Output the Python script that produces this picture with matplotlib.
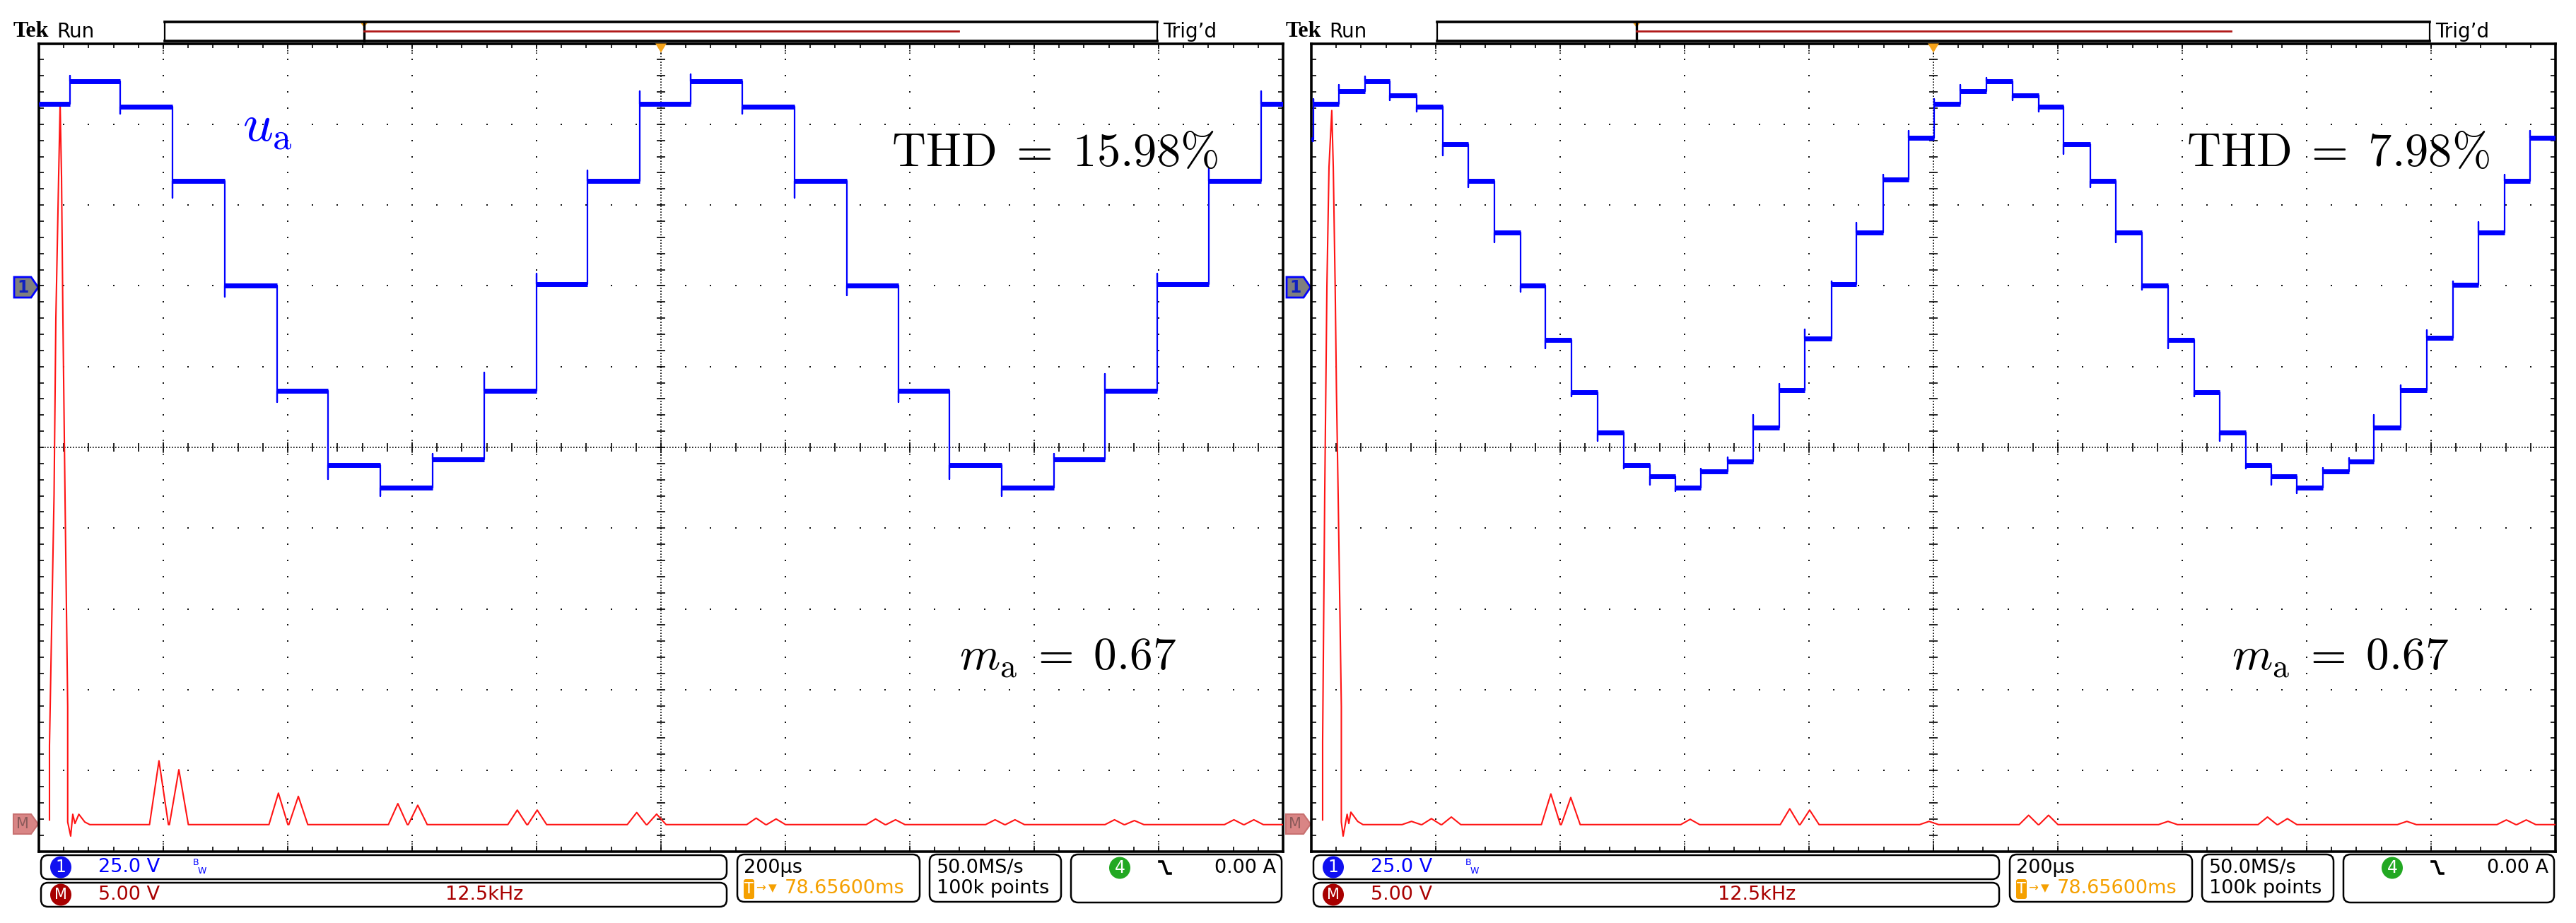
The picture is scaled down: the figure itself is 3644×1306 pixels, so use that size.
import numpy as np
import matplotlib
matplotlib.use("Agg")
import matplotlib.pyplot as plt
from matplotlib.patches import Polygon, FancyBboxPatch, Ellipse

plt.rcParams["mathtext.fontset"] = "cm"
plt.rcParams["font.family"] = "DejaVu Sans"

W, H = 3644, 1306

# ---- channel 1 (u_a), left screen: step start times (us), levels (V), edge spikes (V)
t_left = [0, 50, 131, 215, 299, 383, 465, 549, 633, 716, 800, 882, 966,
          1048, 1131, 1215, 1299, 1382, 1464, 1548, 1632, 1714, 1798, 1881, 1965]
u_left = [56.3, 63.3, 55.5, 32.5, 0.0, -32.5, -55.5, -62.5, -53.8, -32.5, 0.5, 32.5, 56.3,
          63.3, 55.5, 32.5, 0.0, -32.5, -55.5, -62.5, -53.8, -32.5, 0.5, 32.5, 56.3]
spk_left = [56.3, 65.0, 53.3, 27.3, -3.5, -36.0, -59.8, -65.0, -52.0, -26.8, 3.8, 35.8, 60.3,
            65.5, 53.3, 27.3, -3.0, -36.0, -59.8, -65.0, -52.0, -27.3, 3.8, 36.5, 60.3]

# ---- channel 1 (u_a), right screen
t_right = [0, 3, 44, 86, 126, 169, 211, 252, 294, 336, 376, 418, 460, 502, 544, 585, 626,
           669, 710, 752, 793, 836, 876, 919, 960, 1001, 1043, 1085, 1127, 1169, 1209,
           1252, 1293, 1335, 1377, 1419, 1460, 1502, 1543, 1584, 1626, 1668, 1708, 1751,
           1793, 1835, 1876, 1918, 1959]
u_right = [45.3, 56.3, 60.3, 63.3, 59.0, 55.5, 43.8, 32.5, 16.5, 0.0, -16.8, -33.0, -45.3,
           -55.5, -59.0, -62.5, -57.5, -54.3, -43.8, -32.3, -16.3, 0.5, 16.5, 32.8, 45.8,
           56.3, 60.3, 63.3, 59.0, 55.5, 43.8, 32.5, 16.5, 0.0, -16.8, -33.0, -45.3, -55.5,
           -59.0, -62.5, -57.5, -54.3, -43.8, -32.3, -16.0, 0.3, 16.5, 32.5, 45.8]
spk_right = [45.3, 57.8, 62.3, 64.8, 57.3, 54.0, 40.3, 30.5, 13.5, -1.8, -19.3, -34.3, -48.0,
             -56.5, -61.5, -63.5, -56.5, -53.0, -40.0, -30.3, -13.5, 1.5, 19.5, 34.5, 48.0,
             57.8, 62.3, 64.5, 57.3, 54.0, 40.8, 30.5, 13.5, -1.3, -19.3, -34.3, -48.0, -56.5,
             -61.5, -64.3, -56.3, -53.3, -40.0, -30.8, -13.8, 1.5, 19.8, 34.5, 48.0]

# ---- math channel (FFT): low-frequency lobe (kHz, V) and harmonic peaks (kHz, V)
lobe_f_left = [0.0, 0.0, 0.46, 0.64, 0.92, 1.07, 1.21, 1.35, 1.56, 1.83, 1.83, 2.13, 2.34, 2.56, 2.95, 3.55, 4.05]
lobe_v_left = [0.29, 4.9, 20.4, 31.3, 40.1, 44.6, 40.1, 31.3, 20.4, 7.3, 0.16, -0.71, 0.64, 0.07, 0.64, 0.16, 0.0]
pk_f_left = [11, 13, 23, 25, 35, 37, 47, 49, 59, 61, 71, 73, 83, 85, 95, 97, 107, 109, 119, 121]
pk_v_left = [3.95, 3.4, 1.95, 1.75, 1.3, 1.2, 0.9, 0.9, 0.75, 0.65, 0.4, 0.35, 0.35, 0.3, 0.3, 0.3, 0.3, 0.25, 0.3, 0.3]

lobe_f_right = [0.07, 0.07, 0.28, 0.50, 0.71, 0.99, 1.14, 1.33, 1.46, 1.63, 1.95, 1.95, 2.13, 2.53, 2.70, 2.91, 3.59, 4.12]
lobe_v_right = [0.29, 5.1, 20.4, 33.3, 40.7, 44.2, 40.7, 33.3, 26.8, 20.4, 7.3, 0.16, -0.71, 0.64, 0.07, 0.77, 0.2, 0.0]
pk_f_right = [9, 11, 13, 23, 25, 37, 47, 49, 61, 71, 73, 85, 95, 97, 109, 119, 121]
pk_v_right = [0.2, 0.37, 0.47, 1.9, 1.68, 0.33, 0.98, 0.9, 0.2, 0.58, 0.58, 0.2, 0.47, 0.37, 0.2, 0.29, 0.29]

thd_text = [r"$\mathrm{THD}\;=\;15.98\%$", r"$\mathrm{THD}\;=\;7.98\%$"]
ma_text = r"$m_\mathrm{a}\;=\;0.67$"

BLUE = "#0000ff"
RED = "#ff1414"
DRED = "#a80000"
ORANGE = "#f5a000"

fig = plt.figure(figsize=(W / 100, H / 100), dpi=100)
bg = fig.add_axes([0, 0, 1, 1])
bg.set_xlim(0, W)
bg.set_ylim(H, 0)
bg.axis("off")


def T(x, y, s, **kw):
    return fig.text(x / W, 1 - y / H, s, **kw)


def rbox(x0, y0, x1, y1, r=10, lw=1.8):
    bg.add_patch(FancyBboxPatch((x0, y0), x1 - x0, y1 - y0,
                                boxstyle="round,pad=0,rounding_size=%g" % r,
                                fc="white", ec="black", lw=lw))


def draw_screen(k, dx, t, u, spk, lf, lv, pf, pv):
    x0 = 55 + dx
    rect = [x0 / W, 1 - 1204.5 / H, 1760 / W, 1143 / H]

    # graticule
    g = fig.add_axes(rect, label="grid%d" % k)
    g.set_xlim(0, 10)
    g.set_ylim(-5, 5)
    g.set_facecolor("none")
    g.set_xticks([])
    g.set_yticks([])
    for s in g.spines.values():
        s.set_linewidth(2.6)
    mx = np.round(np.arange(0, 10.001, 0.2), 2)
    my = np.round(np.arange(-5, 5.001, 0.2), 2)
    for gx in [1, 2, 3, 4, 6, 7, 8, 9]:
        g.plot(np.full(len(my) - 2, gx), my[1:-1], ls="none", marker="s", ms=1.7, mew=0, color="#111")
    for gy in [-4, -3, -2, -1, 1, 2, 3, 4]:
        g.plot(mx[1:-1], np.full(len(mx) - 2, gy), ls="none", marker="s", ms=1.7, mew=0, color="#111")
    g.axhline(0, color="k", lw=1.2, ls=(0, (1, 1.4)))
    g.axvline(5, color="k", lw=1.2, ls=(0, (1, 1.4)))
    g.vlines(mx[1:-1], -0.05, 0.05, color="k", lw=1.2)
    g.hlines(my[1:-1], 5 - 0.033, 5 + 0.033, color="k", lw=1.2)
    g.vlines(np.arange(1, 10), -0.1, 0.1, color="k", lw=1.2, ls=(0, (1, 1)))
    g.vlines(mx, 5 - 0.06, 5, color="k", lw=1.2)
    g.vlines(mx, -5, -5 + 0.06, color="k", lw=1.2)
    g.hlines(my, 0, 0.04, color="k", lw=1.2)
    g.hlines(my, 10 - 0.04, 10, color="k", lw=1.2)
    g.vlines(np.arange(1, 10), 5 - 0.13, 5, color="k", lw=1.2, ls=(0, (1, 1)))
    g.vlines(np.arange(1, 10), -5, -5 + 0.13, color="k", lw=1.2, ls=(0, (1, 1)))
    g.add_patch(Polygon([(4.955, 5), (5.045, 5), (5, 4.885)], closed=True,
                        fc="#f5a31a", ec="none", clip_on=False, zorder=5))

    # math (FFT) trace: 12.5 kHz/div, 5 V/div, reference at -4.67 div
    m = fig.add_axes(rect, label="math%d" % k)
    m.set_xlim(-0.0852 * 12.5, (10 - 0.0852) * 12.5)
    m.set_ylim((-5 + 4.67) * 5, (5 + 4.67) * 5)
    m.axis("off")
    ff = list(lf)
    vv = list(lv)
    for a, b in zip(pf, pv):
        ff += [a - 0.95, a, a + 0.95]
        vv += [0, b, 0]
    ff.append(130)
    vv.append(0)
    m.plot(ff, vv, color=RED, lw=1.5)

    # channel 1: 200 us/div, 25 V/div, ground at +2 div
    b = fig.add_axes(rect, label="ch1%d" % k)
    b.set_xlim(0, 2000)
    b.set_ylim(-7 * 25, 3 * 25)
    b.axis("off")
    t_end = list(t[1:]) + [2000]
    xs, ys = [], []
    for i in range(len(t)):
        xs += [t[i], t[i], t_end[i]]
        ys += [spk[i], u[i], u[i]]
    b.plot(xs, ys, color=BLUE, lw=1.6)
    b.hlines(u, t, t_end, color=BLUE, lw=5, capstyle="butt")

    # ---- header
    T(19 + dx, 45, "Tek", fontsize=23, family="Liberation Serif", weight="bold", va="center")
    T(80 + dx, 45, "Run", fontsize=20, va="center")
    bg.plot([233 + dx, 1637 + dx], [31, 31], color="k", lw=2.6)
    bg.plot([233 + dx, 1637 + dx], [58, 58], color="k", lw=2.6)
    bg.plot([233 + dx, 233 + dx], [31, 58], color="k", lw=1.6)
    bg.plot([1637 + dx, 1637 + dx], [31, 58], color="k", lw=1.6)
    bg.plot([515 + dx, 515 + dx], [31, 58], color="k", lw=2.4)
    bg.plot([515 + dx, 1356 + dx], [44, 44], color="#b01818", lw=2)
    bg.add_patch(Polygon([(509 + dx, 31), (521 + dx, 31), (515 + dx, 39)], closed=True, fc="#f5a31a", ec="none"))
    T(1645 + dx, 45, "Trig\u2019d", fontsize=20, va="center")

    # ---- left-edge markers
    bg.add_patch(Polygon([(20 + dx, 392), (44 + dx, 392), (54 + dx, 406.5), (44 + dx, 421), (20 + dx, 421)],
                         closed=True, fc="#7f7f7f", ec=BLUE, lw=2))
    T(33 + dx, 407, "1", fontsize=17, color="#1020c0", weight="bold", ha="center", va="center")
    bg.add_patch(Polygon([(19 + dx, 1152), (44 + dx, 1152), (54 + dx, 1166), (44 + dx, 1180), (19 + dx, 1180)],
                         closed=True, fc="#d98585", ec="#c87070", lw=1.5))
    T(32 + dx, 1166, "M", fontsize=15, color="#8a5a5a", ha="center", va="center")

    # ---- status bar
    rbox(58 + dx, 1210, 1028 + dx, 1244)
    rbox(58 + dx, 1249, 1028 + dx, 1283)
    rbox(1043 + dx, 1209, 1301 + dx, 1276)
    rbox(1315 + dx, 1209, 1501 + dx, 1276)
    rbox(1515 + dx, 1209, 1813 + dx, 1277)
    bg.add_patch(Ellipse((86 + dx, 1227), 30, 31, fc="#1010f0", ec="none"))
    T(86 + dx, 1227, "1", fontsize=17, color="white", ha="center", va="center")
    T(139 + dx, 1227, "25.0 V", fontsize=19.5, color=BLUE, va="center")
    T(273 + dx, 1221, "B", fontsize=9, color=BLUE, va="center")
    T(280 + dx, 1233, "W", fontsize=9, color=BLUE, va="center")
    bg.add_patch(Ellipse((86 + dx, 1266), 30, 31, fc=DRED, ec="none"))
    T(86 + dx, 1266, "M", fontsize=15, color="white", ha="center", va="center")
    T(139 + dx, 1266, "5.00 V", fontsize=19.5, color=DRED, va="center")
    T(630 + dx, 1266, "12.5kHz", fontsize=19.5, color=DRED, va="center")
    T(1052 + dx, 1228, "200\u00b5s", fontsize=19.5, va="center")
    bg.add_patch(FancyBboxPatch((1052 + dx, 1244), 15, 28, boxstyle="round,pad=0,rounding_size=3",
                                fc=ORANGE, ec="none"))
    T(1059.5 + dx, 1258, "T", fontsize=15, color="white", ha="center", va="center")
    T(1069 + dx, 1257, "\u2192", fontsize=12, color=ORANGE, va="center")
    T(1087 + dx, 1257, "\u25bc", fontsize=11, color=ORANGE, va="center")
    T(1110 + dx, 1257, "78.65600ms", fontsize=19.5, color=ORANGE, va="center")
    T(1325 + dx, 1228, "50.0MS/s", fontsize=19.5, va="center")
    T(1325 + dx, 1257, "100k points", fontsize=19.5, va="center")
    bg.add_patch(Ellipse((1584 + dx, 1228), 30, 31, fc="#22a822", ec="none"))
    T(1584 + dx, 1228, "4", fontsize=17, color="white", ha="center", va="center")
    bg.plot([1640 + dx, 1645 + dx, 1651 + dx, 1656 + dx], [1219, 1219, 1236, 1236], color="k", lw=2.6)
    T(1805 + dx, 1228, "0.00 A", fontsize=19.5, ha="right", va="center")


draw_screen(0, 0, t_left, u_left, spk_left, lobe_f_left, lobe_v_left, pk_f_left, pk_v_left)
draw_screen(1, 1800, t_right, u_right, spk_right, lobe_f_right, lobe_v_right, pk_f_right, pk_v_right)

# annotations
T(1723, 235, thd_text[0], fontsize=48, ha="right", va="baseline")
T(3522, 235, thd_text[1], fontsize=48, ha="right", va="baseline")
T(1357, 947, ma_text, fontsize=47, va="baseline")
T(3157, 947, ma_text, fontsize=47, va="baseline")
T(343, 200, r"$u_\mathrm{a}$", fontsize=54, color=BLUE, va="baseline")

fig.savefig("out.png", dpi=100)
